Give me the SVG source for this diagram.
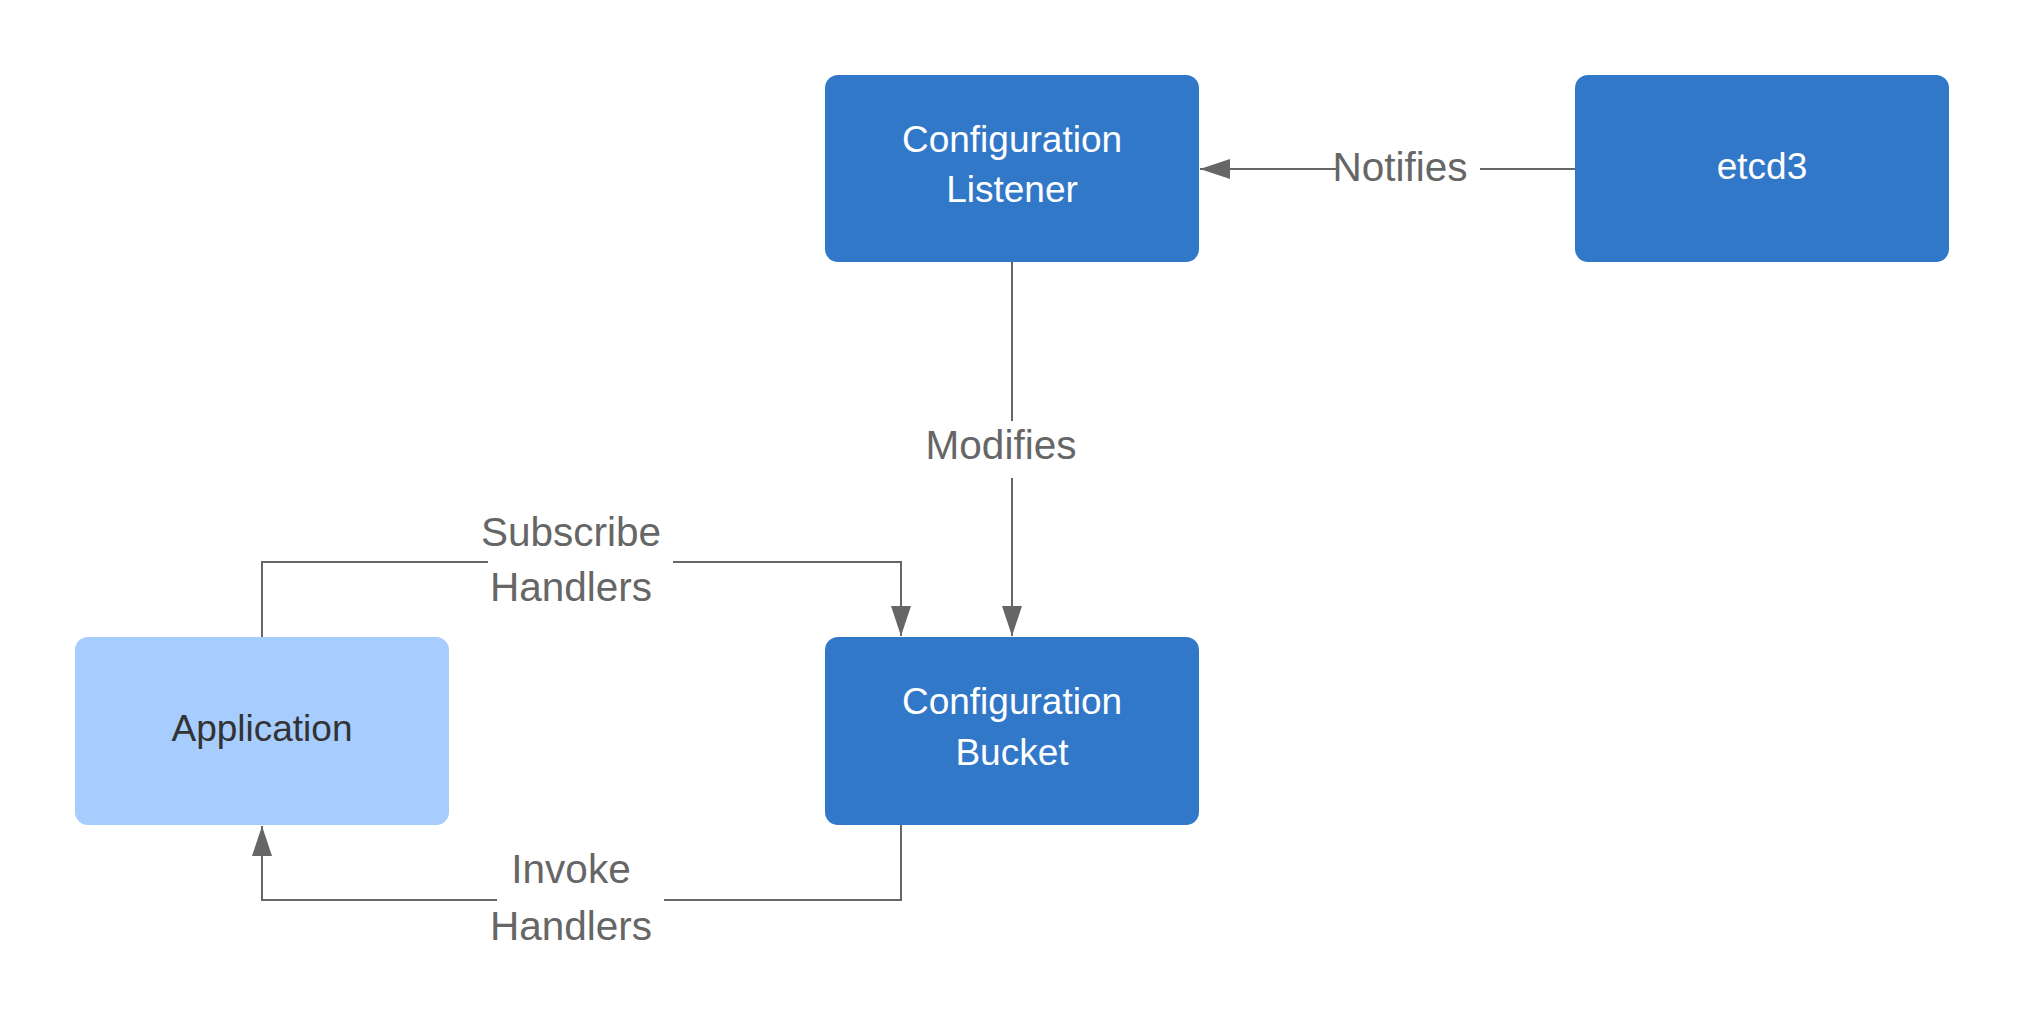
<svg xmlns="http://www.w3.org/2000/svg" width="2025" height="1031" viewBox="0 0 2025 1031">
<style>
.node{fill:#3178C9;}
.app{fill:#A6CDFE;}
.nt{font-family:"Liberation Sans",Arial,sans-serif;font-size:37px;fill:#FFFFFF;text-anchor:middle;}
.at{font-family:"Liberation Sans",Arial,sans-serif;font-size:37px;fill:#333333;text-anchor:middle;}
.lbl{font-family:"Liberation Sans",Arial,sans-serif;font-size:40.5px;fill:#666666;text-anchor:middle;}
.ln{fill:none;stroke:#666666;stroke-width:2;}
</style>
<defs>
<marker id="arr" viewBox="0 0 30 20" refX="30" refY="10" markerWidth="30" markerHeight="20" markerUnits="userSpaceOnUse" orient="auto">
<path d="M0,0 L30,10 L0,20 Z" fill="#666666"/>
</marker>
</defs>
<rect width="2025" height="1031" fill="#FFFFFF"/>
<g id="connectors">
<path class="ln" d="M1575,169 L1480,169"/>
<path class="ln" d="M1337,169 L1200,169" marker-end="url(#arr)"/>
<path class="ln" d="M1012,262 L1012,421"/>
<path class="ln" d="M1012,478 L1012,636" marker-end="url(#arr)"/>
<path class="ln" d="M262,637 L262,562 L488,562"/>
<path class="ln" d="M673,562 L901,562 L901,636" marker-end="url(#arr)"/>
<path class="ln" d="M901,825 L901,900 L664,900"/>
<path class="ln" d="M497,900 L262,900 L262,826" marker-end="url(#arr)"/>
<text class="lbl" x="1400" y="181">Notifies</text>
<text class="lbl" x="1001" y="459">Modifies</text>
<text class="lbl" x="571" y="546">Subscribe</text>
<text class="lbl" x="571" y="601">Handlers</text>
<text class="lbl" x="571" y="883">Invoke</text>
<text class="lbl" x="571" y="940">Handlers</text>
</g>
<g id="listener">
<rect class="node" x="825" y="75" width="374" height="187" rx="13"/>
<text class="nt" x="1012" y="152">Configuration</text>
<text class="nt" x="1012" y="202">Listener</text>
</g>
<g id="etcd3">
<rect class="node" x="1575" y="75" width="374" height="187" rx="13"/>
<text class="nt" x="1762" y="179">etcd3</text>
</g>
<g id="application">
<rect class="app" x="75" y="637" width="374" height="188" rx="13"/>
<text class="at" x="262" y="741">Application</text>
</g>
<g id="bucket">
<rect class="node" x="825" y="637" width="374" height="188" rx="13"/>
<text class="nt" x="1012" y="714">Configuration</text>
<text class="nt" x="1012" y="765">Bucket</text>
</g>
</svg>
